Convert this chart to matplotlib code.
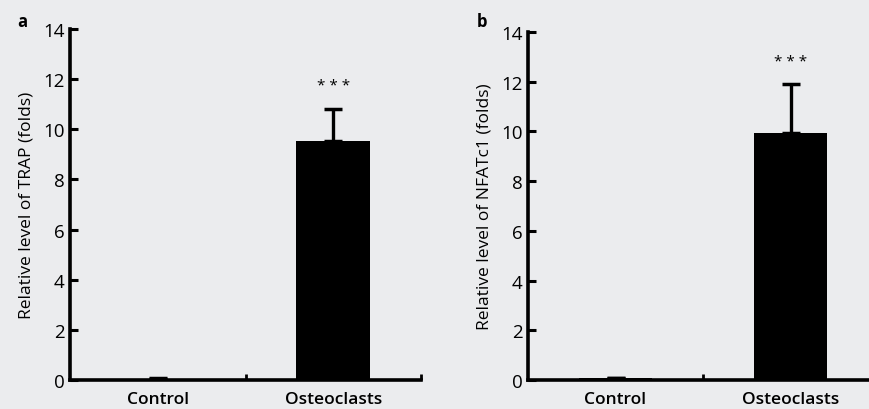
import matplotlib
matplotlib.use("Agg")
import matplotlib.pyplot as plt

plt.rcParams['font.family'] = ['Open Sans', 'DejaVu Sans']

categories = ['Control', 'Osteoclasts']
trap_values = [0.02, 9.55]
trap_err = [0.06, 1.25]
nfatc1_values = [0.07, 9.95]
nfatc1_err = [0.0, 1.95]
ylabels = ['Relative level of TRAP (folds)', 'Relative level of NFATc1 (folds)']
panel_tags = ['a', 'b']
star_y = [11.75, 12.8]

bg = '#ebecee'
fig = plt.figure(figsize=(8.69, 4.10), dpi=100, facecolor=bg)

# axes placed in figure fractions to match the original layout
ax_a = fig.add_axes([70 / 869, 29 / 410, 351 / 869, 351 / 410])
ax_b = fig.add_axes([528 / 869, 29 / 410, 350 / 869, 348 / 410])

panels = [(ax_a, trap_values, trap_err), (ax_b, nfatc1_values, nfatc1_err)]
for i, (ax, vals, errs) in enumerate(panels):
    ax.set_facecolor(bg)
    x = list(range(len(categories)))
    ax.bar(x, vals, width=0.42, color='black', zorder=2)
    ax.errorbar(x, vals, yerr=[[0] * len(errs), errs], fmt='none', ecolor='black',
                elinewidth=2.4, capsize=6.5, capthick=2.5, zorder=1)
    ax.text(1, star_y[i], '* * *', ha='center', va='center', fontsize=11)
    ax.set_xlim(-0.5, 1.5)
    ax.set_ylim(0, 14)
    ax.set_yticks(range(0, 15, 2))
    ax.set_xticks(x)
    ax.set_xticklabels(categories, fontsize=12.5, fontweight='semibold')
    ax.set_xticks([0.5, 1.5], minor=True)
    ax.tick_params(axis='x', which='major', length=0, pad=8)
    ax.tick_params(axis='x', which='minor', direction='in', length=4, width=2)
    ax.tick_params(axis='y', direction='in', length=6, width=2.2, labelsize=13.5, pad=4)
    for lab in ax.get_yticklabels():
        lab.set_fontweight('medium')
    for side in ['top', 'right']:
        ax.spines[side].set_visible(False)
    for side in ['left', 'bottom']:
        ax.spines[side].set_linewidth(2.6)
    ax.set_ylabel(ylabels[i], fontsize=12.5, fontweight='medium', labelpad=6)

fig.text(17 / 869, 1 - 22 / 410, panel_tags[0], fontsize=12, fontweight='bold', va='center')
fig.text(477 / 869, 1 - 22 / 410, panel_tags[1], fontsize=12, fontweight='bold', va='center')

fig.savefig('out.png', dpi=100, facecolor=bg)
